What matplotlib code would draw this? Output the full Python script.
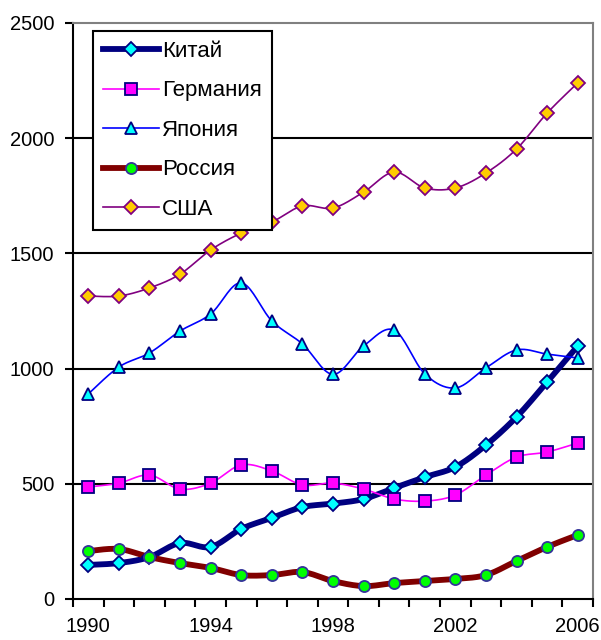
import numpy as np
import matplotlib
matplotlib.use("Agg")
import matplotlib.pyplot as plt
from matplotlib.lines import Line2D

plt.rcParams['font.family'] = ['Liberation Sans', 'DejaVu Sans']

years = list(range(1990, 2007))
china = [148, 156, 182, 243, 226, 304, 352, 399, 414, 434, 482, 529, 573, 668, 790, 942, 1098]
germany = [486, 503, 538, 477, 503, 582, 556, 495, 503, 477, 434, 425, 451, 538, 616, 638, 677]
japan = [890, 1007, 1068, 1163, 1237, 1372, 1207, 1107, 975, 1098, 1167, 977, 916, 1003, 1081, 1063, 1046]
russia = [208, 217, 182, 156, 135, 104, 104, 117, 78, 56, 69, 78, 87, 104, 165, 226, 278]
usa = [1315, 1315, 1350, 1410, 1515, 1588, 1636, 1706, 1697, 1766, 1853, 1784, 1784, 1849, 1953, 2109, 2240]
names = ['Китай', 'Германия', 'Япония', 'Россия', 'США']
xlabels = ['1990', '1994', '1998', '2002', '2006']


def smooth(x, y, n=20):
    x = np.asarray(x, float)
    y = np.asarray(y, float)
    xs, ys = [], []
    for i in range(len(x) - 1):
        p0x, p0y = (x[i - 1], y[i - 1]) if i > 0 else (x[i], y[i])
        p3x, p3y = (x[i + 2], y[i + 2]) if i + 2 < len(x) else (x[i + 1], y[i + 1])
        p1x, p1y = x[i], y[i]
        p2x, p2y = x[i + 1], y[i + 1]
        c1x, c1y = p1x + (p2x - p0x) / 6, p1y + (p2y - p0y) / 6
        c2x, c2y = p2x - (p3x - p1x) / 6, p2y - (p3y - p1y) / 6
        t = np.linspace(0, 1, n, endpoint=False)
        b0 = (1 - t) ** 3
        b1 = 3 * (1 - t) ** 2 * t
        b2 = 3 * (1 - t) * t ** 2
        b3 = t ** 3
        xs.append(b0 * p1x + b1 * c1x + b2 * c2x + b3 * p2x)
        ys.append(b0 * p1y + b1 * c1y + b2 * c2y + b3 * p2y)
    xs.append([x[-1]])
    ys.append([y[-1]])
    return np.concatenate(xs), np.concatenate(ys)


fig = plt.figure(figsize=(6.01, 6.40), dpi=100)
ax = fig.add_axes([73 / 601, 1 - 599 / 640, 520 / 601, 576 / 640])

xpos = np.arange(len(years))
styles = [
    dict(data=china, lc='#000080', lw=4.2, m='D', ms=7, mfc='#00FFFF', mec='#000080'),
    dict(data=germany, lc='#FF00FF', lw=1.2, m='s', ms=8.5, mfc='#FF00FF', mec='#000080'),
    dict(data=japan, lc='#0000FF', lw=1.2, m='^', ms=9, mfc='#00FFFF', mec='#000080'),
    dict(data=russia, lc='#800000', lw=4.2, m='o', ms=8, mfc='#00FF00', mec='#333399'),
    dict(data=usa, lc='#800080', lw=1.2, m='D', ms=7, mfc='#FFCC00', mec='#800080'),
]

for s in styles:
    sx, sy = smooth(xpos, s['data'])
    ax.plot(sx, sy, color=s['lc'], lw=s['lw'], solid_capstyle='round', zorder=3)
for s in styles:
    ax.plot(xpos, s['data'], ls='none', marker=s['m'], ms=s['ms'], mfc=s['mfc'],
            mec=s['mec'], mew=1.3, zorder=4)

for yv in [500, 1000, 1500, 2000]:
    ax.axhline(yv, color='black', lw=1.5, zorder=1)

ax.set_xlim(-0.5, len(years) - 0.5)
ax.set_ylim(0, 2500)
ax.set_yticks([0, 500, 1000, 1500, 2000, 2500])
ax.tick_params(axis='y', direction='out', length=6, width=1.5, labelsize=14.5, pad=7.5)
ax.set_xticks(np.arange(-0.5, len(years), 1.0))
ax.set_xticklabels([])
ax.tick_params(axis='x', which='major', direction='out', length=6, width=1.5)
ax.set_xticks([0, 4, 8, 12, 16], minor=True)
ax.set_xticklabels(xlabels, minor=True)
ax.tick_params(axis='x', which='minor', length=0, labelsize=14.5, pad=13)

for side in ['left', 'bottom']:
    ax.spines[side].set_color('black')
    ax.spines[side].set_linewidth(1.5)
for side in ['top', 'right']:
    ax.spines[side].set_color('#808080')
    ax.spines[side].set_linewidth(1.5)

handles = []
for s, nm in zip(styles, names):
    handles.append(Line2D([0], [0], color=s['lc'], lw=s['lw'], marker=s['m'], ms=s['ms'],
                          mfc=s['mfc'], mec=s['mec'], mew=1.3, label=nm))
leg = ax.legend(handles=handles, loc='upper left',
                bbox_to_anchor=((93 - 73) / 520, (599 - 31) / 576),
                borderaxespad=0, fontsize=16, frameon=True, fancybox=False,
                edgecolor='black', framealpha=1, handlelength=2.5, handletextpad=0.15,
                labelspacing=0.83, borderpad=0.45)
leg.get_frame().set_linewidth(1.5)
leg.set_zorder(5)

fig.savefig('out.png', dpi=100)
